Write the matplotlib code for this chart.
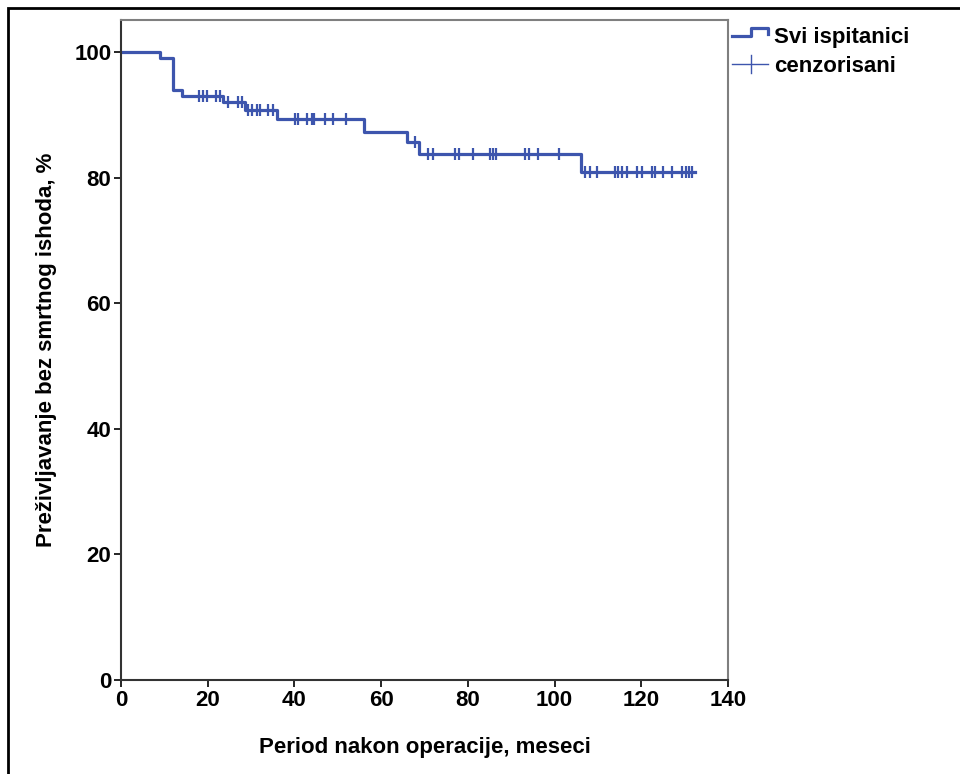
import matplotlib
matplotlib.use("Agg")
import matplotlib.pyplot as plt
import numpy as np
from matplotlib.lines import Line2D
from matplotlib.patches import Rectangle

plt.rcParams['font.family'] = ['Liberation Sans', 'DejaVu Sans']
plt.rcParams['font.weight'] = 'bold'

# Kaplan-Meier steps (months, survival %)
step_times = [0, 9, 12, 14, 23.6, 28.6, 36, 56, 66, 68.8, 106, 132.5]
step_surv = [100, 99.0, 94.0, 93.0, 92.1, 90.8, 89.3, 87.3, 85.6, 83.7, 80.9, 80.9]

# censored observations (months)
censor_times = [18.1, 19.0, 19.9, 22.0, 22.8, 24.7, 27.0, 28.0, 29.4, 30.1, 31.3,
                32.0, 34.0, 35.1, 40.1, 40.9, 42.8, 44.1, 44.6, 47.0, 49.0, 52.0,
                67.8, 70.9, 71.9, 77.0, 78.0, 81.1, 85.1, 85.8, 86.6, 93.2, 94.0,
                96.2, 101.1, 107.0, 108.2, 109.8, 113.9, 114.7, 115.5, 116.6,
                118.9, 120.1, 122.4, 123.1, 125.0, 127.0, 129.3, 130.3, 131.0, 131.8]

x_ticks = [0, 20, 40, 60, 80, 100, 120, 140]
y_ticks = [0, 20, 40, 60, 80, 100]

BLUE = '#3d55ad'
W, H = 960, 774

fig = plt.figure(figsize=(W / 100, H / 100), dpi=100)
ax = fig.add_axes([121 / W, 1 - 680 / H, (728 - 121) / W, (680 - 20) / H])

ax.step(step_times, step_surv, where='post', color=BLUE, linewidth=2.3)

# survival value at each censor time
idx = np.searchsorted(step_times, censor_times, side='right') - 1
censor_y = [step_surv[i] for i in idx]
ax.plot(censor_times, censor_y, linestyle='none', marker='|', color=BLUE,
        markersize=9, markeredgewidth=1.6)

ax.set_xlim(0, 140)
ax.set_ylim(0, 105.1)
ax.set_xticks(x_ticks)
ax.set_yticks(y_ticks)
ax.tick_params(axis='both', direction='out', length=5, width=1.2, colors='black',
               labelsize=16, pad=2)
for lab in ax.get_xticklabels() + ax.get_yticklabels():
    lab.set_fontweight('bold')
for side in ['left', 'bottom']:
    ax.spines[side].set_color('#333333')
    ax.spines[side].set_linewidth(1.5)
for side in ['top', 'right']:
    ax.spines[side].set_color('#7f7f7f')
    ax.spines[side].set_linewidth(1.5)

ax.set_xlabel('Period nakon operacije, meseci', fontsize=16, fontweight='bold', labelpad=19)
ax.set_ylabel('Preživljavanje bez smrtnog ishoda, %', fontsize=16, fontweight='bold', labelpad=12)

# legend drawn in figure pixels
def fx(px):
    return px / W

def fy(py):
    return 1 - py / H

fig.add_artist(Line2D([fx(732), fx(751), fx(751), fx(768), fx(768)],
                      [fy(36), fy(36), fy(28), fy(28), fy(34)],
                      color=BLUE, linewidth=2.3))
fig.add_artist(Line2D([fx(732), fx(768)], [fy(64), fy(64)], color=BLUE, linewidth=1))
fig.add_artist(Line2D([fx(751), fx(751)], [fy(55), fy(73)], color=BLUE, linewidth=1))
fig.text(fx(774), fy(37), 'Svi ispitanici', fontsize=16, fontweight='bold', va='center', ha='left')
fig.text(fx(774), fy(66), 'cenzorisani', fontsize=16, fontweight='bold', va='center', ha='left')

# outer frame
fig.add_artist(Rectangle((fx(8), fy(H + 20)), fx(W + 20), fy(8) - fy(H + 20),
                         fill=False, edgecolor='black', linewidth=2,
                         transform=fig.transFigure))

fig.savefig('out.png', dpi=100)
